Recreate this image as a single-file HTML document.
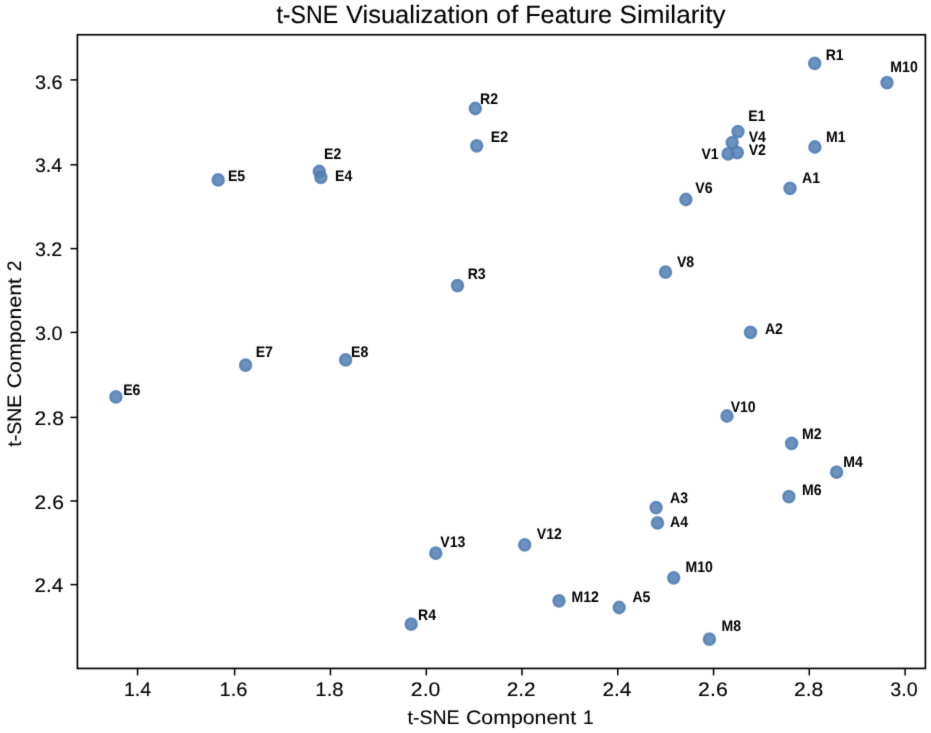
<!DOCTYPE html><html><head><meta charset="utf-8"><style>html,body{margin:0;padding:0;background:#fff;}svg{display:block;}text{font-family:"Liberation Sans",sans-serif;text-rendering:geometricPrecision;}</style></head><body>
<svg width="931" height="733" viewBox="0 0 931 733">
<defs><filter id="bl" x="0" y="0" width="100%" height="100%" color-interpolation-filters="sRGB"><feConvolveMatrix order="3" kernelMatrix="0.0113 0.0838 0.0113 0.0838 0.6193 0.0838 0.0113 0.0838 0.0113" edgeMode="duplicate"/></filter></defs>
<g filter="url(#bl)"><rect width="931" height="733" fill="#fff"/>
<g fill="rgb(81,126,179)" fill-opacity="0.85" stroke="rgb(81,126,179)" stroke-opacity="0.85" stroke-width="2.3">
<ellipse cx="218.2" cy="179.9" rx="5.6" ry="5.75"/>
<ellipse cx="319.3" cy="171.5" rx="5.6" ry="5.75"/>
<ellipse cx="320.9" cy="177.3" rx="5.6" ry="5.75"/>
<ellipse cx="475.3" cy="108.5" rx="5.6" ry="5.75"/>
<ellipse cx="476.7" cy="145.8" rx="5.6" ry="5.75"/>
<ellipse cx="457.5" cy="285.6" rx="5.6" ry="5.75"/>
<ellipse cx="814.7" cy="63.4" rx="5.6" ry="5.75"/>
<ellipse cx="887.0" cy="82.65" rx="5.6" ry="5.75"/>
<ellipse cx="738.0" cy="131.6" rx="5.6" ry="5.75"/>
<ellipse cx="732.2" cy="142.6" rx="5.6" ry="5.75"/>
<ellipse cx="728.1" cy="153.9" rx="5.6" ry="5.75"/>
<ellipse cx="737.3" cy="152.6" rx="5.6" ry="5.75"/>
<ellipse cx="814.9" cy="147.0" rx="5.6" ry="5.75"/>
<ellipse cx="790.0" cy="188.3" rx="5.6" ry="5.75"/>
<ellipse cx="685.9" cy="199.5" rx="5.6" ry="5.75"/>
<ellipse cx="665.5" cy="272.1" rx="5.6" ry="5.75"/>
<ellipse cx="750.5" cy="332.3" rx="5.6" ry="5.75"/>
<ellipse cx="115.9" cy="396.9" rx="5.6" ry="5.75"/>
<ellipse cx="245.6" cy="365.1" rx="5.6" ry="5.75"/>
<ellipse cx="345.6" cy="359.9" rx="5.6" ry="5.75"/>
<ellipse cx="727.0" cy="416.0" rx="5.6" ry="5.75"/>
<ellipse cx="791.6" cy="443.4" rx="5.6" ry="5.75"/>
<ellipse cx="836.6" cy="472.2" rx="5.6" ry="5.75"/>
<ellipse cx="788.9" cy="496.7" rx="5.6" ry="5.75"/>
<ellipse cx="656.1" cy="507.7" rx="5.6" ry="5.75"/>
<ellipse cx="657.5" cy="522.9" rx="5.6" ry="5.75"/>
<ellipse cx="673.7" cy="577.8" rx="5.6" ry="5.75"/>
<ellipse cx="619.2" cy="607.5" rx="5.6" ry="5.75"/>
<ellipse cx="709.4" cy="639.2" rx="5.6" ry="5.75"/>
<ellipse cx="435.8" cy="553.2" rx="5.6" ry="5.75"/>
<ellipse cx="524.7" cy="544.8" rx="5.6" ry="5.75"/>
<ellipse cx="559.0" cy="600.8" rx="5.6" ry="5.75"/>
<ellipse cx="411.2" cy="624.2" rx="5.6" ry="5.75"/>
</g>
<g font-weight="bold" fill="#000">
<text x="227.97" y="181.00" font-size="15.4" textLength="17.24" lengthAdjust="spacingAndGlyphs">E5</text>
<text x="324.11" y="159.00" font-size="15.4" textLength="17.24" lengthAdjust="spacingAndGlyphs">E2</text>
<text x="335.01" y="181.00" font-size="15.4" textLength="17.24" lengthAdjust="spacingAndGlyphs">E4</text>
<text x="480.11" y="104.00" font-size="15.4" textLength="18.01" lengthAdjust="spacingAndGlyphs">R2</text>
<text x="490.81" y="142.00" font-size="15.4" textLength="17.24" lengthAdjust="spacingAndGlyphs">E2</text>
<text x="467.71" y="279.00" font-size="15.4" textLength="18.01" lengthAdjust="spacingAndGlyphs">R3</text>
<text x="825.71" y="60.00" font-size="15.4" textLength="18.01" lengthAdjust="spacingAndGlyphs">R1</text>
<text x="890.36" y="72.00" font-size="15.4" textLength="27.41" lengthAdjust="spacingAndGlyphs">M10</text>
<text x="748.21" y="121.00" font-size="15.4" textLength="17.24" lengthAdjust="spacingAndGlyphs">E1</text>
<text x="748.65" y="142.00" font-size="15.4" textLength="17.24" lengthAdjust="spacingAndGlyphs">V4</text>
<text x="701.45" y="159.00" font-size="15.4" textLength="17.24" lengthAdjust="spacingAndGlyphs">V1</text>
<text x="748.65" y="155.00" font-size="15.4" textLength="17.24" lengthAdjust="spacingAndGlyphs">V2</text>
<text x="826.01" y="142.00" font-size="15.4" textLength="19.57" lengthAdjust="spacingAndGlyphs">M1</text>
<text x="802.10" y="183.00" font-size="15.4" textLength="18.01" lengthAdjust="spacingAndGlyphs">A1</text>
<text x="695.25" y="193.00" font-size="15.4" textLength="17.24" lengthAdjust="spacingAndGlyphs">V6</text>
<text x="676.95" y="267.00" font-size="15.4" textLength="17.24" lengthAdjust="spacingAndGlyphs">V8</text>
<text x="764.90" y="334.00" font-size="15.4" textLength="18.01" lengthAdjust="spacingAndGlyphs">A2</text>
<text x="123.21" y="395.00" font-size="15.4" textLength="17.24" lengthAdjust="spacingAndGlyphs">E6</text>
<text x="255.71" y="357.00" font-size="15.4" textLength="17.24" lengthAdjust="spacingAndGlyphs">E7</text>
<text x="351.11" y="357.00" font-size="15.4" textLength="17.24" lengthAdjust="spacingAndGlyphs">E8</text>
<text x="730.65" y="412.00" font-size="15.4" textLength="25.07" lengthAdjust="spacingAndGlyphs">V10</text>
<text x="802.11" y="439.00" font-size="15.4" textLength="19.57" lengthAdjust="spacingAndGlyphs">M2</text>
<text x="843.21" y="467.00" font-size="15.4" textLength="19.57" lengthAdjust="spacingAndGlyphs">M4</text>
<text x="802.11" y="495.00" font-size="15.4" textLength="19.57" lengthAdjust="spacingAndGlyphs">M6</text>
<text x="670.00" y="503.00" font-size="15.4" textLength="18.01" lengthAdjust="spacingAndGlyphs">A3</text>
<text x="670.00" y="527.00" font-size="15.4" textLength="18.01" lengthAdjust="spacingAndGlyphs">A4</text>
<text x="685.51" y="572.00" font-size="15.4" textLength="27.41" lengthAdjust="spacingAndGlyphs">M10</text>
<text x="632.40" y="602.00" font-size="15.4" textLength="18.01" lengthAdjust="spacingAndGlyphs">A5</text>
<text x="721.51" y="631.00" font-size="15.4" textLength="19.57" lengthAdjust="spacingAndGlyphs">M8</text>
<text x="440.25" y="547.00" font-size="15.4" textLength="25.07" lengthAdjust="spacingAndGlyphs">V13</text>
<text x="536.85" y="539.00" font-size="15.4" textLength="25.07" lengthAdjust="spacingAndGlyphs">V12</text>
<text x="571.41" y="602.00" font-size="15.4" textLength="27.41" lengthAdjust="spacingAndGlyphs">M12</text>
<text x="418.01" y="620.00" font-size="15.4" textLength="18.01" lengthAdjust="spacingAndGlyphs">R4</text>
</g>
<g stroke="#000" stroke-width="1.7" fill="none" stroke-linecap="butt">
<rect x="77.42" y="34.75" width="847.98" height="633.68"/>
</g>
<g stroke="#000" stroke-width="1.5" fill="none" stroke-linecap="butt">
<line x1="137.55" y1="668.43" x2="137.55" y2="675.43"/>
<line x1="234.63" y1="668.43" x2="234.63" y2="675.43"/>
<line x1="330.45" y1="668.43" x2="330.45" y2="675.43"/>
<line x1="426.32" y1="668.43" x2="426.32" y2="675.43"/>
<line x1="521.99" y1="668.43" x2="521.99" y2="675.43"/>
<line x1="617.73" y1="668.43" x2="617.73" y2="675.43"/>
<line x1="713.55" y1="668.43" x2="713.55" y2="675.43"/>
<line x1="809.29" y1="668.43" x2="809.29" y2="675.43"/>
<line x1="905.09" y1="668.43" x2="905.09" y2="675.43"/>
<line x1="77.42" y1="79.9" x2="70.42" y2="79.9"/>
<line x1="77.42" y1="164.8" x2="70.42" y2="164.8"/>
<line x1="77.42" y1="248.6" x2="70.42" y2="248.6"/>
<line x1="77.42" y1="332.4" x2="70.42" y2="332.4"/>
<line x1="77.42" y1="417.4" x2="70.42" y2="417.4"/>
<line x1="77.42" y1="501.0" x2="70.42" y2="501.0"/>
<line x1="77.42" y1="584.6" x2="70.42" y2="584.6"/>
</g>
<g fill="#000" stroke="#000" stroke-width="0.1">
<text x="123.91" y="696.00" font-size="19.5" textLength="27.27" lengthAdjust="spacingAndGlyphs">1.4</text>
<text x="219.56" y="696.00" font-size="19.5" textLength="28.02" lengthAdjust="spacingAndGlyphs">1.6</text>
<text x="315.35" y="696.00" font-size="19.5" textLength="28.23" lengthAdjust="spacingAndGlyphs">1.8</text>
<text x="410.88" y="696.00" font-size="19.5" textLength="29.55" lengthAdjust="spacingAndGlyphs">2.0</text>
<text x="506.65" y="696.00" font-size="19.5" textLength="29.00" lengthAdjust="spacingAndGlyphs">2.2</text>
<text x="602.45" y="696.00" font-size="19.5" textLength="28.96" lengthAdjust="spacingAndGlyphs">2.4</text>
<text x="698.13" y="696.00" font-size="19.5" textLength="29.61" lengthAdjust="spacingAndGlyphs">2.6</text>
<text x="793.94" y="696.00" font-size="19.5" textLength="29.33" lengthAdjust="spacingAndGlyphs">2.8</text>
<text x="890.22" y="696.00" font-size="19.5" textLength="27.45" lengthAdjust="spacingAndGlyphs">3.0</text>
<text x="34.91" y="89.00" font-size="19.5" textLength="27.66" lengthAdjust="spacingAndGlyphs">3.6</text>
<text x="34.93" y="172.00" font-size="19.5" textLength="27.15" lengthAdjust="spacingAndGlyphs">3.4</text>
<text x="34.92" y="256.00" font-size="19.5" textLength="27.37" lengthAdjust="spacingAndGlyphs">3.2</text>
<text x="34.91" y="340.00" font-size="19.5" textLength="27.56" lengthAdjust="spacingAndGlyphs">3.0</text>
<text x="34.61" y="425.00" font-size="19.5" textLength="29.31" lengthAdjust="spacingAndGlyphs">2.8</text>
<text x="34.61" y="509.00" font-size="19.5" textLength="29.32" lengthAdjust="spacingAndGlyphs">2.6</text>
<text x="34.63" y="592.00" font-size="19.5" textLength="28.67" lengthAdjust="spacingAndGlyphs">2.4</text>
</g>
<g fill="#000" stroke="#000" stroke-width="0.1">
<text x="407.50" y="724.00" font-size="19.5" textLength="52.05" lengthAdjust="spacingAndGlyphs">t-SNE</text><text x="465.96" y="724.00" font-size="19.5" textLength="110.14" lengthAdjust="spacingAndGlyphs">Component</text><text x="583.08" y="724.00" font-size="19.5" textLength="10.65" lengthAdjust="spacingAndGlyphs">1</text>
<g transform="translate(21,0) rotate(-90)"><text x="-446.80" y="0.00" font-size="19.5" textLength="52.09" lengthAdjust="spacingAndGlyphs">t-SNE</text><text x="-388.29" y="0.00" font-size="19.5" textLength="110.23" lengthAdjust="spacingAndGlyphs">Component</text><text x="-271.28" y="0.00" font-size="19.5" textLength="10.76" lengthAdjust="spacingAndGlyphs">2</text></g>
<text x="276.45" y="23.00" font-size="25.0" textLength="61.78" lengthAdjust="spacingAndGlyphs">t-SNE</text><text x="345.92" y="23.00" font-size="25.0" textLength="142.78" lengthAdjust="spacingAndGlyphs">Visualization</text><text x="496.29" y="23.00" font-size="25.0" textLength="22.02" lengthAdjust="spacingAndGlyphs">of</text><text x="525.24" y="23.00" font-size="25.0" textLength="86.82" lengthAdjust="spacingAndGlyphs">Feature</text><text x="619.62" y="23.00" font-size="25.0" textLength="105.83" lengthAdjust="spacingAndGlyphs">Similarity</text>
</g>
</g></svg></body></html>
